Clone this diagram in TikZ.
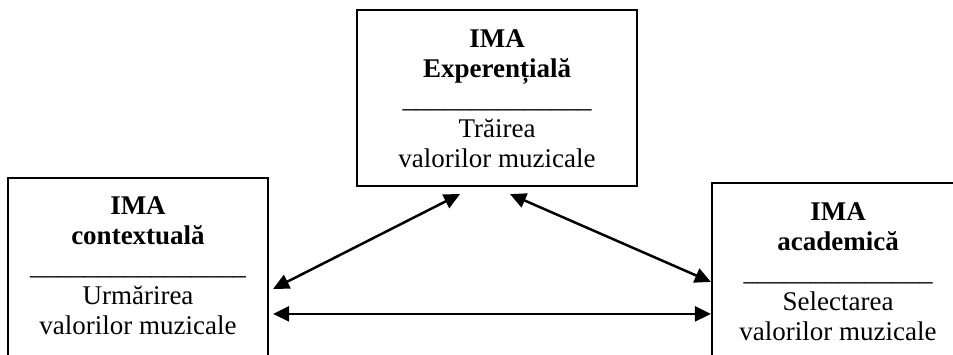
\documentclass[tikz,border=0pt]{standalone}
\usepackage{fontspec}
\setmainfont{Liberation Serif}
\usetikzlibrary{arrows.meta}
\begin{document}
\begin{tikzpicture}[x=1pt,y=-1pt,
  box/.style={draw, line width=2.2pt, rectangle, inner sep=0pt},
  txt/.style={font=\fontsize{27}{30}\selectfont, inner sep=0pt, anchor=base},
  bld/.style={txt, font=\fontsize{27}{30}\selectfont\bfseries},
  link/.style={line width=2.5pt, {Triangle[length=16pt,width=15pt]}-{Triangle[length=16pt,width=15pt]}}]
\useasboundingbox (0,0) rectangle (953,354);
\clip (0,0) rectangle (953,354);
% boxes
\node[box, minimum width=280pt, minimum height=176pt] (top) at (497,98) {};
\node[box, minimum width=260pt, minimum height=220pt] (left) at (138,288) {};
\node[box, minimum width=252pt, minimum height=220pt] (right) at (838,293) {};
% top box text
\node[bld] (t1) at (497,47) {IMA};
\node[bld] (t2) at (497,77) {Experențială};
\node[txt] (t3) at (497,107) {\_\_\_\_\_\_\_\_\_\_\_\_\_\_};
\node[txt] (t4) at (497,137) {Trăirea};
\node[txt] (t5) at (497,167) {valorilor muzicale};
% left box text
\node[bld] (l1) at (138,214) {IMA};
\node[bld] (l2) at (138,244) {contextuală};
\node[txt] (l3) at (138,274) {\_\_\_\_\_\_\_\_\_\_\_\_\_\_\_\_};
\node[txt] (l4) at (138,304) {Urmărirea};
\node[txt] (l5) at (138,334) {valorilor muzicale};
% right box text
\node[bld] (r1) at (838,220) {IMA};
\node[bld] (r2) at (838,250) {academică};
\node[txt] (r3) at (838,280) {\_\_\_\_\_\_\_\_\_\_\_\_\_\_};
\node[txt] (r4) at (838,310) {Selectarea};
\node[txt] (r5) at (838,340) {valorilor muzicale};
% connectors
\draw[link] ([shift={(-37,7)}]top.south) -- ([shift={(4,112)}]left.north east);
\draw[link] ([shift={(13,7)}]top.south) -- ([shift={(0,100)}]right.north west);
\draw[link] ([shift={(4,137)}]left.north east) -- ([shift={(0,132)}]right.north west);
\end{tikzpicture}
\end{document}
